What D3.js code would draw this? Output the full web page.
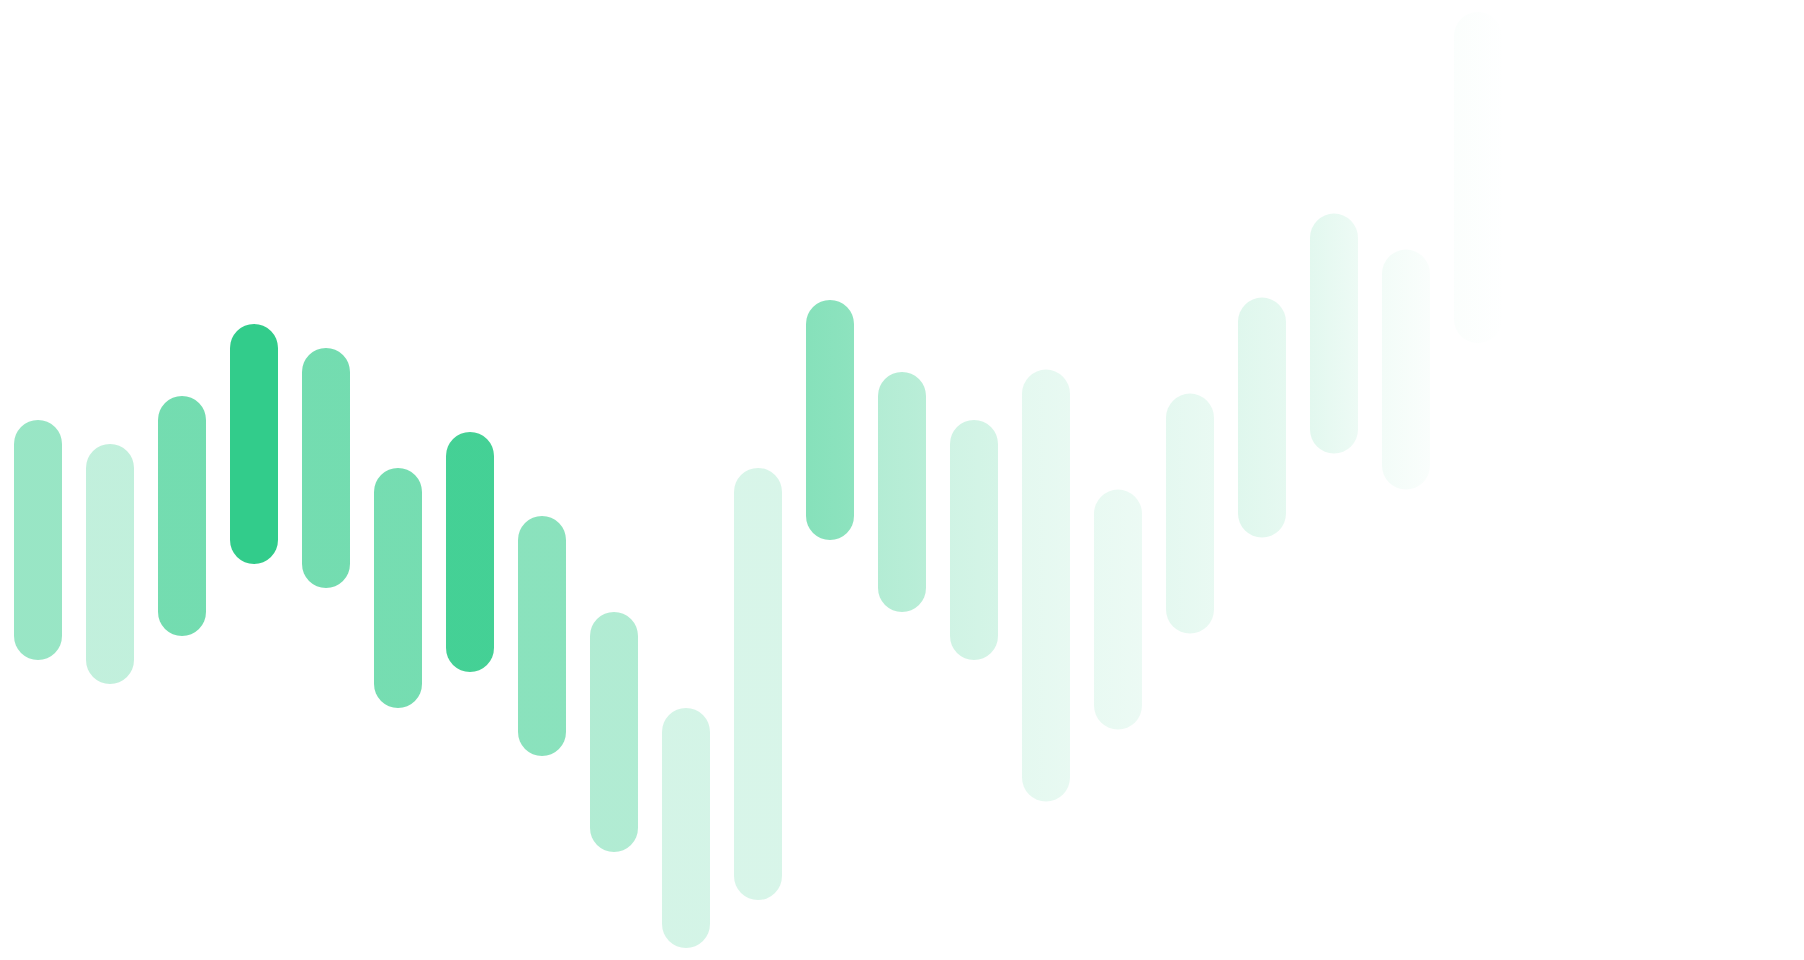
<!DOCTYPE html>
<html>
<head>
<meta charset="utf-8">
<script src="https://cdn.jsdelivr.net/npm/d3@7"></script>
<style>
  html, body { margin: 0; padding: 0; background: #fff; }
  svg { display: block; }
</style>
</head>
<body>
<div class="chart"></div>
<script>
// one range bar per period: low / high value, plus its strength (drawn as opacity)
var periods = ['P1', 'P2', 'P3', 'P4', 'P5', 'P6', 'P7', 'P8', 'P9', 'P10', 'P11',
    'P12', 'P13', 'P14', 'P15', 'P16', 'P17', 'P18', 'P19', 'P20', 'P21'];
var highs = [107.5, 102.5, 112.5, 127.5, 122.5, 97.5, 105, 87.5, 67.5, 47.5, 97.5,
    132.5, 117.5, 107.5, 118, 93, 113, 133, 150.5, 143, 192.5];
var lows = [67.5, 62.5, 72.5, 87.5, 82.5, 57.5, 65, 47.5, 27.5, 7.5, 17.5,
    92.5, 77.5, 67.5, 38, 53, 73, 93, 110.5, 103, 133.5];
var strength = [0.5, 0.3, 0.68, 1, 0.68, 0.67, 0.91, 0.57, 0.38, 0.21, 0.19,
    0.59, 0.37, 0.23, 0.13, 0.11, 0.13, 0.155, 0.14, 0.06, 0.02];

var chartConfig = {
    w: 1804,
    h: 960,
    radius: 24,
    color: '#32cc8b',
    selector: '.chart'
};

var dataset = periods.map(function (p, i) {
    return { period: p, high: highs[i], low: lows[i], strength: strength[i] };
});

var xScale = d3.scaleBand()
    .domain(periods)
    .range([2, 1514])
    .paddingInner(1 / 3)
    .paddingOuter(1 / 6);

var yScale = d3.scaleLinear()
    .domain([0, 200])
    .range([chartConfig.h, 0]);

// bars fade out towards the right edge
var fadeScale = d3.scaleLinear()
    .domain([800, 1260, 1410, 1480])
    .range([0.95, 0.8, 0.42, 0.1])
    .clamp(true);

var svg = d3.select(chartConfig.selector)
    .append('svg')
    .attr('width', chartConfig.w)
    .attr('height', chartConfig.h);

var defs = svg.append('defs');

dataset.forEach(function (d, i) {
    var cx = xScale(d.period) + xScale.bandwidth() / 2;
    var g = defs.append('linearGradient')
        .attr('id', 'bar-grad-' + i)
        .attr('x1', 0).attr('y1', 0)
        .attr('x2', 1).attr('y2', 0);
    g.append('stop')
        .attr('offset', 0)
        .attr('stop-color', chartConfig.color)
        .attr('stop-opacity', d.strength);
    g.append('stop')
        .attr('offset', 1)
        .attr('stop-color', chartConfig.color)
        .attr('stop-opacity', d.strength * (cx < 800 ? 1 : fadeScale(cx)));
});

svg.selectAll('rect.bar')
    .data(dataset)
    .enter()
    .append('rect')
    .attr('class', 'bar')
    .attr('x', function (d) { return xScale(d.period); })
    .attr('y', function (d) { return yScale(d.high) - chartConfig.radius; })
    .attr('width', xScale.bandwidth())
    .attr('height', function (d) {
        return yScale(d.low) - yScale(d.high) + chartConfig.radius * 2;
    })
    .attr('rx', chartConfig.radius)
    .attr('ry', chartConfig.radius)
    .attr('fill', function (d, i) { return 'url(#bar-grad-' + i + ')'; });
</script>
</body>
</html>
